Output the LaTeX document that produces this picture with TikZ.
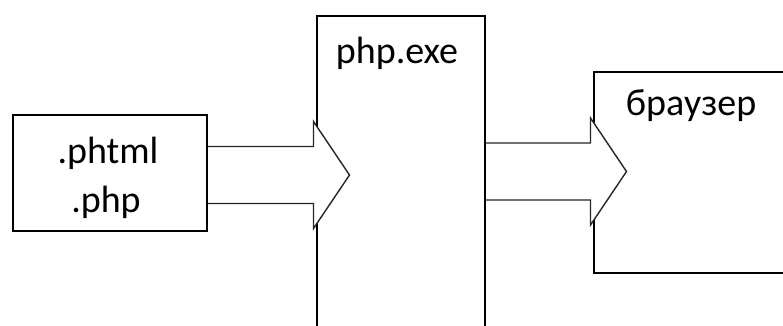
\documentclass[tikz,border=0pt]{standalone}
\usepackage{fontspec}
\setmainfont{Carlito}
\usetikzlibrary{calc}
\tikzset{
  frame/.style={draw=black, line width=2pt, fill=white, rectangle, inner sep=0pt, anchor=north west},
  blockarrow/.style={draw=black!85, line width=1.4pt, fill=white, line join=miter},
  caption/.style={anchor=base, inner sep=0pt, font=\fontsize{38}{45}\selectfont}
}
% block arrow from the east side of #1 into the west side of #2, centred at height #3
\newcommand{\blockarrowpath}[3]{%
  \draw[blockarrow]
    let \p1=(#1.east), \p2=(#2.west) in
    (\x1,#3-28.5) -- (\x2-2.5,#3-28.5) -- (\x2-2.5,#3-53.5) -- (\x2+33.5,#3)
    -- (\x2-2.5,#3+53.5) -- (\x2-2.5,#3+28.5) -- (\x1,#3+28.5);%
}
\begin{document}
\begin{tikzpicture}[x=1pt,y=-1pt]
  \useasboundingbox (0,0) rectangle (783,325);
  \clip (0,0) rectangle (783,325);

  % source files, interpreter, browser
  \node[frame, minimum width=194pt, minimum height=116pt] (src) at (12,114) {};
  \node[frame, minimum width=168pt, minimum height=330pt] (php) at (316,15) {};
  \node[frame, minimum width=220pt, minimum height=201pt] (web) at (593,71) {};

  \node[caption] (t1) at (108,163) {.phtml};
  \node[caption] (t2) at (106,212) {.php};
  \node[caption] (t3) at (397,63) {php.exe};
  \node[caption] (t4) at (691,115) {браузер};

  % data flow
  \blockarrowpath{src}{php}{175}
  \blockarrowpath{php}{web}{171.5}
\end{tikzpicture}
\end{document}
